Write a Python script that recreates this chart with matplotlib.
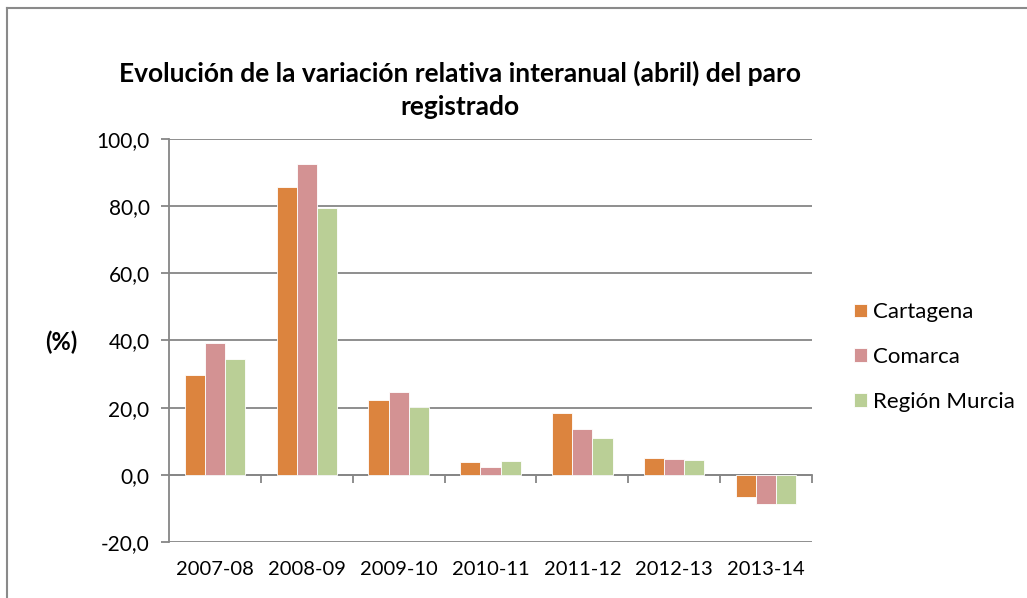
import matplotlib
matplotlib.use("Agg")
import matplotlib.pyplot as plt
from matplotlib.ticker import FuncFormatter
from matplotlib.lines import Line2D
import numpy as np

categories = ["2007-08", "2008-09", "2009-10", "2010-11", "2011-12", "2012-13", "2013-14"]
cartagena = [29.8, 85.6, 22.4, 3.8, 18.3, 5.0, -6.7]
comarca = [39.1, 92.6, 24.7, 2.2, 13.7, 4.6, -8.7]
region = [34.5, 79.4, 20.2, 4.1, 10.9, 4.5, -8.7]
series_names = ["Cartagena", "Comarca", "Región Murcia"]
colors = ["#DC843E", "#D39293", "#BACF96"]
yticks = [-20, 0, 20, 40, 60, 80, 100]

plt.rcParams['font.family'] = ['Lato', 'DejaVu Sans']

fig = plt.figure(figsize=(10.27, 5.98), dpi=100)
ax = fig.add_axes([0.1646, 0.0936, 0.6260, 0.6744])

x = np.arange(len(categories))
w = 0.22
for i, vals in enumerate([cartagena, comarca, region]):
    ax.bar(x + (i - 1) * w, vals, width=w, color=colors[i], edgecolor="#FFFFFF",
           linewidth=0.6, label=series_names[i], zorder=3)

ax.set_xlim(-0.5, len(categories) - 0.5)
ax.set_ylim(-20, 100)
ax.set_yticks(yticks)
ax.yaxis.set_major_formatter(FuncFormatter(lambda v, p: f"{v:.1f}".replace(".", ",")))
ax.grid(axis="y", color="#868686", linewidth=1.3, zorder=0)
ax.set_axisbelow(True)

for s in ["top", "right", "bottom"]:
    ax.spines[s].set_visible(False)
ax.spines["left"].set_color("#868686")
ax.spines["left"].set_linewidth(1.3)
ax.tick_params(axis="y", direction="out", length=6, width=1.3, color="#868686",
               labelsize=15, labelcolor="#000000", pad=8)

ax.set_xticks(x)
ax.set_xticklabels(categories)
ax.tick_params(axis="x", length=0, labelsize=14.5, labelcolor="#000000", pad=14)

# category axis line at zero
sec = ax.secondary_xaxis(20 / 120)
sec.set_xticks(np.arange(0.5, len(categories), 1.0))
sec.set_xticklabels([])
sec.spines["bottom"].set_color("#868686")
sec.spines["bottom"].set_linewidth(1.3)
sec.tick_params(axis="x", direction="out", length=6, width=1.3, color="#868686")

fig.text(0.060, 0.428, "(%)", fontsize=17, fontweight="bold", ha="center", va="center")

fig.text(0.448, 0.850, "Evolución de la variación relativa interanual (abril) del paro\nregistrado",
         fontsize=19, fontweight="bold", ha="center", va="center", linespacing=1.45)

leg = fig.legend(loc="center left", bbox_to_anchor=(0.812, 0.403), frameon=False,
                 fontsize=16, handlelength=0.59, handleheight=0.59, handletextpad=0.27,
                 labelspacing=1.11)

# chart area border (only left and top edges visible)
bx = 6.5 / 1027
by = 1 - 7.5 / 598
fig.lines.append(Line2D([bx, bx], [0, by], transform=fig.transFigure,
                        color="#8A8A8A", linewidth=1.5))
fig.lines.append(Line2D([bx, 1], [by, by], transform=fig.transFigure,
                        color="#8A8A8A", linewidth=1.5))

fig.savefig("out.png", dpi=100)
